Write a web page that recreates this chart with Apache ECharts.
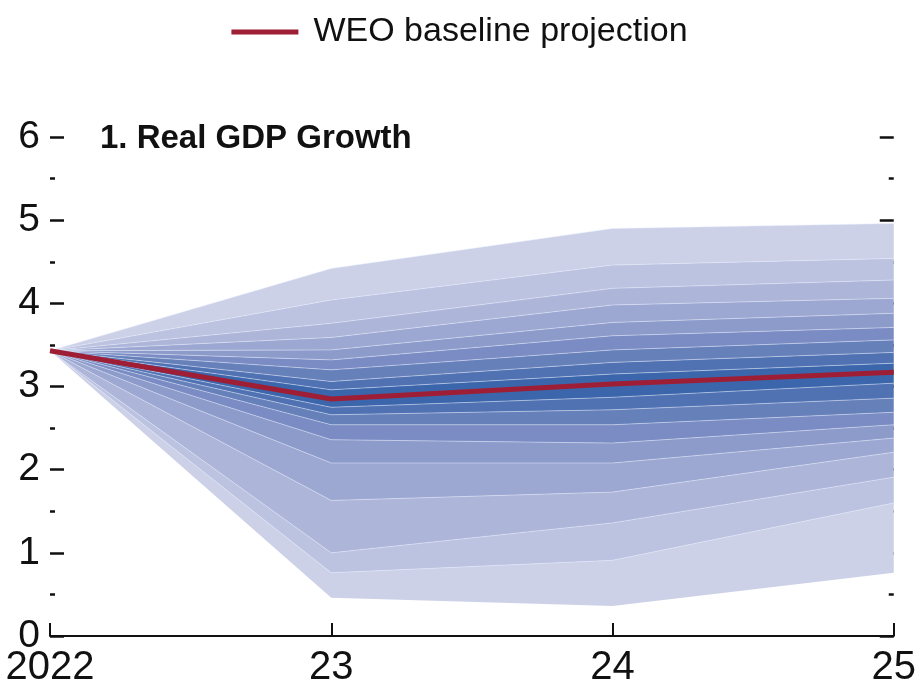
<!DOCTYPE html>
<html>
<head>
<meta charset="utf-8">
<script src="https://cdn.jsdelivr.net/npm/echarts@6/dist/echarts.min.js"></script>
<style>html,body{margin:0;padding:0;background:#fff;}#c{width:919px;height:689px;}</style>
</head>
<body>
<div id="c"></div>
<script>
// ---- data ----
const years = ['2022', '23', '24', '25'];
const baseline = [3.43, 2.85, 3.03, 3.17];
// fan boundaries per year, lowest to highest
const q22 = [3.43, 3.43, 3.43, 3.43, 3.43, 3.43, 3.43, 3.43, 3.43, 3.43, 3.43, 3.43, 3.43, 3.43, 3.43, 3.43, 3.43, 3.43];
const q23 = [0.46, 0.76, 1.00, 1.63, 2.08, 2.36, 2.54, 2.66, 2.75, 2.96, 3.06, 3.20, 3.32, 3.44, 3.59, 3.76, 4.04, 4.42];
const q24 = [0.36, 0.91, 1.36, 1.73, 2.08, 2.32, 2.54, 2.72, 2.87, 3.15, 3.29, 3.44, 3.61, 3.77, 3.98, 4.18, 4.46, 4.90];
const q25 = [0.76, 1.60, 1.91, 2.21, 2.38, 2.54, 2.69, 2.86, 3.04, 3.28, 3.41, 3.56, 3.71, 3.88, 4.06, 4.28, 4.54, 4.96];
const yTicks = [0, 1, 2, 3, 4, 5, 6];

// ---- styles ----
const palette = ['#cdd1e8', '#bcc3e0', '#adb5d9', '#9da8d2', '#8c9bca', '#7a8cc3', '#6680ba', '#5072b2', '#3c66ab'];
const bandLevels = [0, 1, 2, 3, 4, 5, 6, 7, 8, 7, 6, 5, 4, 3, 2, 1, 0];
const narrow = '"Liberation Sans Narrow", "Arial Narrow", "Liberation Sans", sans-serif';
const regular = '"Liberation Sans", Arial, sans-serif';

const qs = [q22, q23, q24, q25];
const series = [];
series.push({
  type: 'line', stack: 'fan', silent: true, symbol: 'none',
  data: qs.map(q => q[0]),
  lineStyle: { opacity: 0 }
});
for (let i = 1; i < q23.length; i++) {
  series.push({
    type: 'line', stack: 'fan', silent: true, symbol: 'none',
    data: qs.map(q => +(q[i] - q[i - 1]).toFixed(4)),
    lineStyle: { color: 'rgba(235,240,255,0.45)', width: 1 },
    areaStyle: { color: palette[bandLevels[i - 1]], opacity: 1 }
  });
}
series.push({
  name: 'WEO baseline projection', type: 'line', symbol: 'none', z: 10,
  data: baseline,
  lineStyle: { color: '#9e1f35', width: 5 },
  itemStyle: { color: '#9e1f35' }
});

const yAxisBase = {
  type: 'value', min: 0, max: 6, interval: 1,
  splitLine: { show: false },
  axisLine: { show: false },
  axisTick: { show: true, inside: true, length: 14, lineStyle: { color: '#111', width: 2.5 } },
  minorTick: { show: true, splitNumber: 2, length: 5, lineStyle: { color: '#111', width: 2.5 } },
  minorSplitLine: { show: false }
};

const chart = echarts.init(document.getElementById('c'));
chart.setOption({
  animation: false,
  backgroundColor: '#fff',
  title: {
    text: '1. Real GDP Growth', left: 95, top: 117,
    textStyle: { fontFamily: narrow, fontWeight: 'bold', fontSize: 33, color: '#111' }
  },
  legend: {
    data: ['WEO baseline projection'], top: 10, left: 'center',
    icon: 'rect', itemWidth: 67, itemHeight: 5,
    textStyle: { fontFamily: narrow, fontSize: 34, color: '#111', padding: [0, 0, 0, 10] }
  },
  grid: { left: 50, right: 22, top: 137, bottom: 53 },
  xAxis: {
    type: 'category', data: years, boundaryGap: false,
    axisLine: { lineStyle: { color: '#111', width: 2 } },
    axisTick: { inside: true, length: 13, lineStyle: { color: '#111', width: 2 } },
    axisLabel: { fontFamily: regular, fontSize: 40, color: '#111', margin: 12 }
  },
  yAxis: [
    Object.assign({}, yAxisBase, {
      position: 'left',
      axisLabel: { fontFamily: regular, fontSize: 39, color: '#111', margin: 10,
        formatter: v => yTicks.indexOf(v) >= 0 ? String(v) : '' }
    }),
    Object.assign({}, yAxisBase, { position: 'right', axisLabel: { show: false } })
  ],
  series: series
});
</script>
</body>
</html>
